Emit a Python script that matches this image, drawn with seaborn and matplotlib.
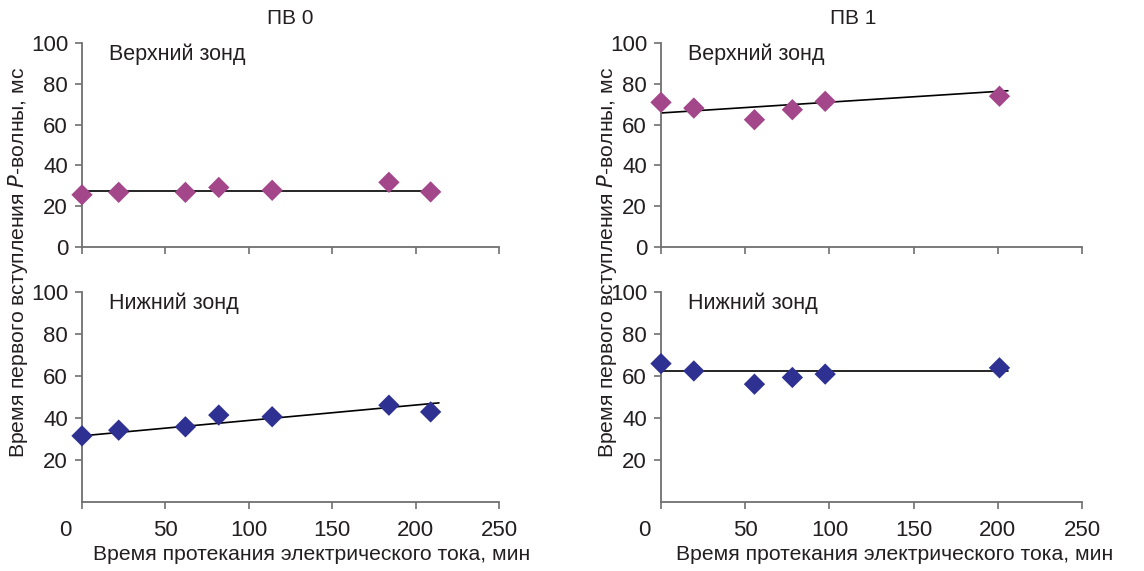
import numpy as np
import pandas as pd
import matplotlib
matplotlib.use("Agg")
import matplotlib.pyplot as plt
import seaborn as sns

# ---- data ----
panel_titles = ["ПВ 0", "ПВ 1"]
probe_labels = ["Верхний зонд", "Нижний зонд"]

pv0_time = [0, 22, 62, 82, 114, 184, 209]
pv0_upper = [25.6, 26.8, 26.8, 29.2, 27.8, 31.7, 27.0]
pv0_lower = [31.5, 34.2, 35.8, 41.4, 40.6, 46.1, 42.9]

pv1_time = [0, 19.5, 55.5, 78, 97.5, 201]
pv1_upper = [70.9, 68.1, 62.4, 67.3, 71.4, 73.9]
pv1_lower = [65.9, 62.4, 56.1, 59.3, 60.9, 63.9]

# trend lines (start / end)
pv0_trend_x = [0, 214]
pv0_upper_trend = [27.6, 27.6]
pv0_lower_trend = [31.5, 47.2]
pv1_trend_x = [0, 206]
pv1_upper_trend = [65.7, 76.6]
pv1_lower_trend = [62.4, 62.4]

x_ticks = [0, 50, 100, 150, 200, 250]
y_ticks_top = [0, 20, 40, 60, 80, 100]
y_ticks_bottom = [20, 40, 60, 80, 100]

upper_color = "#A3468A"
lower_color = "#2E3192"
text_color = "#231F20"
spine_color = "#707070"

sns.set_theme(style="ticks")
plt.rcParams["font.family"] = ["Liberation Sans", "DejaVu Sans"]
plt.rcParams["text.color"] = text_color

W, H = 1144, 571
fig = plt.figure(figsize=(W / 100, H / 100), dpi=100)

def px_axes(left, top, right, bottom):
    return fig.add_axes([left / W, 1 - bottom / H, (right - left) / W, (bottom - top) / H])

axes = {
    (0, 0): px_axes(82, 43, 499, 247),
    (0, 1): px_axes(661, 43, 1082, 247),
    (1, 0): px_axes(82, 292, 499, 502),
    (1, 1): px_axes(661, 292, 1082, 502),
}

data = {
    (0, 0): (pv0_time, pv0_upper, pv0_trend_x, pv0_upper_trend, upper_color),
    (0, 1): (pv1_time, pv1_upper, pv1_trend_x, pv1_upper_trend, upper_color),
    (1, 0): (pv0_time, pv0_lower, pv0_trend_x, pv0_lower_trend, lower_color),
    (1, 1): (pv1_time, pv1_lower, pv1_trend_x, pv1_lower_trend, lower_color),
}

fs_tick = 16
fs_text = 15.5
fs_title = 15
fs_label = 15.2
for (r, c), ax in axes.items():
    t, v, tx, ty, col = data[(r, c)]
    sns.lineplot(x=tx, y=ty, ax=ax, color="black", linewidth=1.2)
    sns.scatterplot(x=t, y=v, ax=ax, marker="D", s=118, color=col,
                    edgecolor="none", clip_on=False, zorder=3)
    ax.set_xlim(0, 250)
    ax.set_ylim(0, 100)
    ax.set_xticks(x_ticks)
    if r == 0:
        ax.set_yticks(y_ticks_top)
        ax.set_xticklabels([])
    else:
        ax.set_yticks(y_ticks_bottom)
        labels = [str(x) for x in x_ticks]
        ax.set_xticklabels([""] + labels[1:])
        ax.annotate(labels[0], xy=(x_ticks[0], 0), xycoords=("data", "axes fraction"),
                    xytext=(-17, -18), textcoords="offset pixels",
                    ha="center", va="top", fontsize=fs_tick, color=text_color,
                    annotation_clip=False)
    ax.tick_params(axis="both", direction="out", length=5, width=1.2,
                   color=spine_color, labelsize=fs_tick, labelcolor=text_color, pad=5)
    ax.tick_params(axis="x", pad=8)
    for s in ["top", "right"]:
        ax.spines[s].set_visible(False)
    for s in ["left", "bottom"]:
        ax.spines[s].set_color(spine_color)
        ax.spines[s].set_linewidth(1.3)
    ax.set_xlabel("")
    ax.set_ylabel("")
    ax.text(0.065, 1.0, probe_labels[r], transform=ax.transAxes,
            fontsize=fs_text, va="top", ha="left", color=text_color)

# titles
fig.text(290 / W, 1 - 19 / H, panel_titles[0], ha="center", va="center", fontsize=fs_title)
fig.text(853 / W, 1 - 19 / H, panel_titles[1], ha="center", va="center", fontsize=fs_title)

# axis labels
ylab = "Время первого вступления $\\it{P}$-волны, мс"
fig.text(18 / W, 1 - 262 / H, ylab, rotation=90, ha="center", va="center", fontsize=fs_label)
fig.text(607 / W, 1 - 262 / H, ylab, rotation=90, ha="center", va="center", fontsize=fs_label)
xlab = "Время протекания электрического тока, мин"
fig.text(312 / W, 1 - 555 / H, xlab, ha="center", va="center", fontsize=fs_label)
fig.text(895 / W, 1 - 555 / H, xlab, ha="center", va="center", fontsize=fs_label)

fig.savefig("out.png", dpi=100, facecolor="white")
